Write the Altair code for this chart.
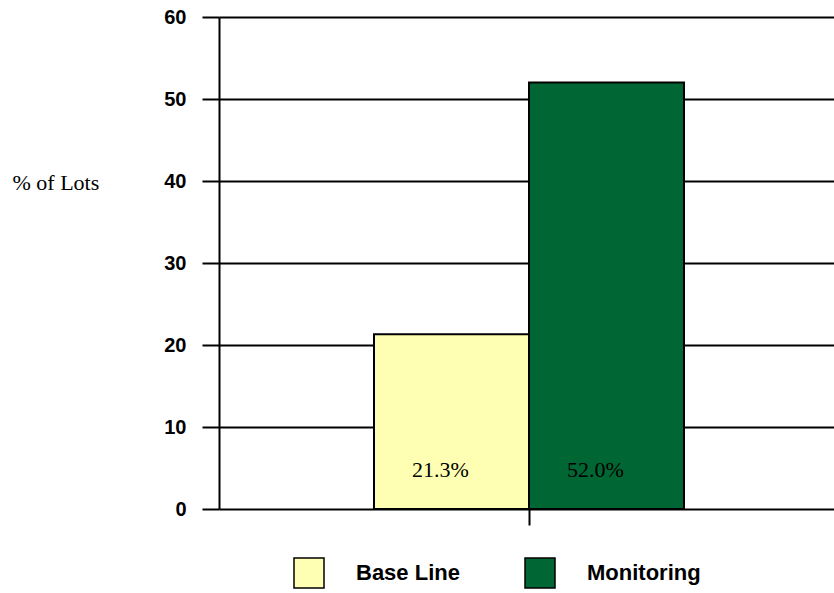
import altair as alt
import pandas as pd

# Share of lots, by survey period
groups = ["Base Line", "Monitoring"]
values = [21.3, 52.0]
colors = ["#FFFFB3", "#006633"]
y_ticks = [0, 10, 20, 30, 40, 50, 60]

df = pd.DataFrame({
    "cat": ["all", "all"],
    "group": groups,
    "value": values,
    "label": [f"{v:.1f}%" for v in values],
})

x_enc = alt.X(
    "cat:N",
    scale=alt.Scale(range=[0, 620], paddingInner=0, paddingOuter=0.5),
    axis=alt.Axis(
        title=None, labels=False, domain=False, grid=False,
        ticks=True, tickSize=16, tickWidth=2, tickColor="black",
    ),
)
xoff_enc = alt.XOffset("group:N", scale=alt.Scale(domain=groups, paddingInner=0, paddingOuter=0))

bars = alt.Chart(df).mark_bar(stroke="black", strokeWidth=2).encode(
    x=x_enc,
    xOffset=xoff_enc,
    y=alt.Y(
        "value:Q",
        scale=alt.Scale(domain=[0, 60], nice=False),
        axis=alt.Axis(
            values=y_ticks,
            title="% of Lots",
            titleAngle=0,
            titleAlign="left",
            titleBaseline="middle",
            titleX=-207,
            titleY=165,
            titleFont="Liberation Serif",
            titleFontSize=22,
            titleFontWeight="normal",
            titleColor="black",
            labelFont="Liberation Sans",
            labelFontSize=20,
            labelFontWeight="bold",
            labelColor="black",
            labelPadding=16,
            tickSize=17,
            tickWidth=2,
            tickColor="black",
            domainColor="black",
            domainWidth=2,
            grid=True,
            gridColor="black",
            gridWidth=2,
            gridOpacity=1,
        ),
    ),
    color=alt.Color(
        "group:N",
        scale=alt.Scale(domain=groups, range=colors),
        legend=alt.Legend(
            title=None,
            orient="none",
            direction="horizontal",
            legendX=74,
            legendY=540,
            padding=0,
            symbolType="square",
            symbolSize=900,
            symbolStrokeColor="black",
            symbolStrokeWidth=1.5,
            symbolOpacity=1,
            labelFont="Liberation Sans",
            labelFontSize=22,
            labelFontWeight="bold",
            labelColor="black",
            labelOffset=31,
            columnPadding=62,
        ),
    ),
)

labels = alt.Chart(df).mark_text(
    font="Liberation Serif", fontSize=22, color="black",
    baseline="alphabetic", align="center", dx=-11, dy=-32,
).encode(
    x=x_enc,
    xOffset=xoff_enc,
    y=alt.datum(0),
    text="label:N",
)

chart = (bars + labels).properties(
    width=615,
    height=492,
    autosize=alt.AutoSizeParams(type="none"),
    padding={"left": 219, "top": 17, "right": 0, "bottom": 84},
    background="white",
).configure_view(stroke=None)

chart.save("out.html", embed_options={"renderer": "svg", "actions": False})
